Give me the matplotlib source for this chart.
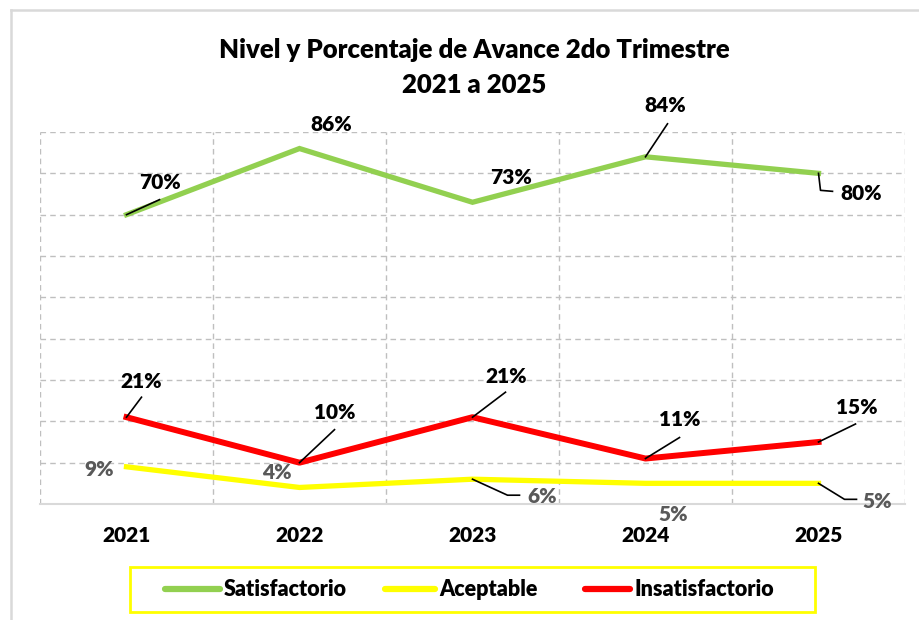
import matplotlib.pyplot as plt
from matplotlib.lines import Line2D
from matplotlib.patches import Rectangle

years = ['2021', '2022', '2023', '2024', '2025']
satisfactorio = [70, 86, 73, 84, 80]
aceptable = [9, 4, 6, 5, 5]
insatisfactorio = [21, 10, 21, 11, 15]

GREEN = '#92d050'
YELLOW = '#ffff00'
RED = '#ff0000'
GRAY_TXT = '#595959'

plt.rcParams['font.family'] = ['Lato', 'DejaVu Sans']
WEIGHT = 'heavy'

W, H = 919, 620
fig = plt.figure(figsize=(W / 100, H / 100), dpi=100)
ax = fig.add_axes([40 / W, (H - 504) / H, (905 - 40) / W, (504 - 132) / H])

x = list(range(len(years)))
ax.plot(x, satisfactorio, color=GREEN, lw=3.8, solid_joinstyle='miter', zorder=3)
ax.plot(x, aceptable, color=YELLOW, lw=3.8, zorder=3)
ax.plot(x, insatisfactorio, color=RED, lw=4.3, zorder=3)

ax.set_xlim(-0.5, 4.5)
ax.set_ylim(0, 90)
ax.set_yticks(range(0, 91, 10))
ax.set_yticklabels([])
ax.set_xticks([i + 0.5 for i in range(-1, 5)], minor=False)
ax.set_xticklabels([])
ax.tick_params(length=0)
ax.grid(True, color='#bfbfbf', ls=(0, (4, 3)), lw=1.0)
for s in ['top', 'right', 'left']:
    ax.spines[s].set_visible(False)
ax.spines['bottom'].set_color('#d9d9d9')
ax.spines['bottom'].set_linewidth(1.5)

# year labels
for i, yr in enumerate(years):
    ax.annotate(yr, (i, 0), xytext=(0, -32), textcoords='offset pixels',
                ha='center', va='center', fontsize=15, fontweight=WEIGHT)

# data labels: (text offset, leader path) in image pixels (y down)
lab_green = [((33, -32), [(0, 0), (33, -15)]),
             ((32, -24), None),
             ((39, -25), None),
             ((20, -51), [(0, 0), (22, -33)]),
             ((43, 20), [(0, 0), (2, 17), (14, 18)])]
lab_red = [((15, -36), [(0, 0), (15, -20)]),
           ((35, -50), [(0, 0), (35, -33)]),
           ((34, -41), [(0, 0), (33, -25)]),
           ((34, -39), [(0, 0), (34, -21)]),
           ((38, -35), [(0, 0), (37, -18)])]
lab_yellow = [((-27, 3), None),
              ((-23, -15), None),
              ((70, 17), [(0, 0), (35, 16), (47, 16)]),
              ((28, 31), None),
              ((59, 18), [(0, 0), (26, 16), (38, 16)])]


def draw_labels(values, specs, color):
    for i, (v, (off, path)) in enumerate(zip(values, specs)):
        px, py = ax.transData.transform((i, v))
        ax.annotate(f'{v}%', (i, v), xytext=(off[0], -off[1]), textcoords='offset pixels',
                    ha='center', va='center', fontsize=15, fontweight=WEIGHT,
                    color=color, zorder=5)
        if path:
            xs = [px + p[0] for p in path]
            ys = [py - p[1] for p in path]
            fig.add_artist(Line2D(xs, ys, transform=None, color='black', lw=1.2, zorder=6))


fig.canvas.draw()
draw_labels(satisfactorio, lab_green, 'black')
draw_labels(insatisfactorio, lab_red, 'black')
draw_labels(aceptable, lab_yellow, GRAY_TXT)

# title
fig.text(474 / W, 1 - 50 / H, 'Nivel y Porcentaje de Avance 2do Trimestre', ha='center', va='center',
         fontsize=18.5, fontweight=WEIGHT)
fig.text(474 / W, 1 - 85 / H, '2021 a 2025', ha='center', va='center',
         fontsize=18.5, fontweight=WEIGHT)

# legend
fig.add_artist(Rectangle((130 / W, 1 - 612 / H), (815 - 130) / W, (612 - 567) / H,
                         transform=fig.transFigure, fill=False, edgecolor=YELLOW, lw=2))
leg_items = [('Satisfactorio', GREEN, 165, 220), ('Aceptable', YELLOW, 385, 435),
             ('Insatisfactorio', RED, 585, 630)]
ly = 1 - 589 / H
for name, col, x0, x1 in leg_items:
    fig.add_artist(Line2D([x0 / W, x1 / W], [ly, ly], transform=fig.transFigure,
                          color=col, lw=4.5, solid_capstyle='round'))
    fig.text((x1 + 4) / W, ly, name, ha='left', va='center', fontsize=15.5, fontweight=WEIGHT)

# chart frame
fig.add_artist(Line2D([11 / W, 11 / W], [0, 1 - 10 / H], transform=fig.transFigure,
                      color='#d9d9d9', lw=1.8))
fig.add_artist(Line2D([11 / W, 1], [1 - 10 / H, 1 - 10 / H], transform=fig.transFigure,
                      color='#d9d9d9', lw=1.8))

fig.savefig('out.png', dpi=100)
